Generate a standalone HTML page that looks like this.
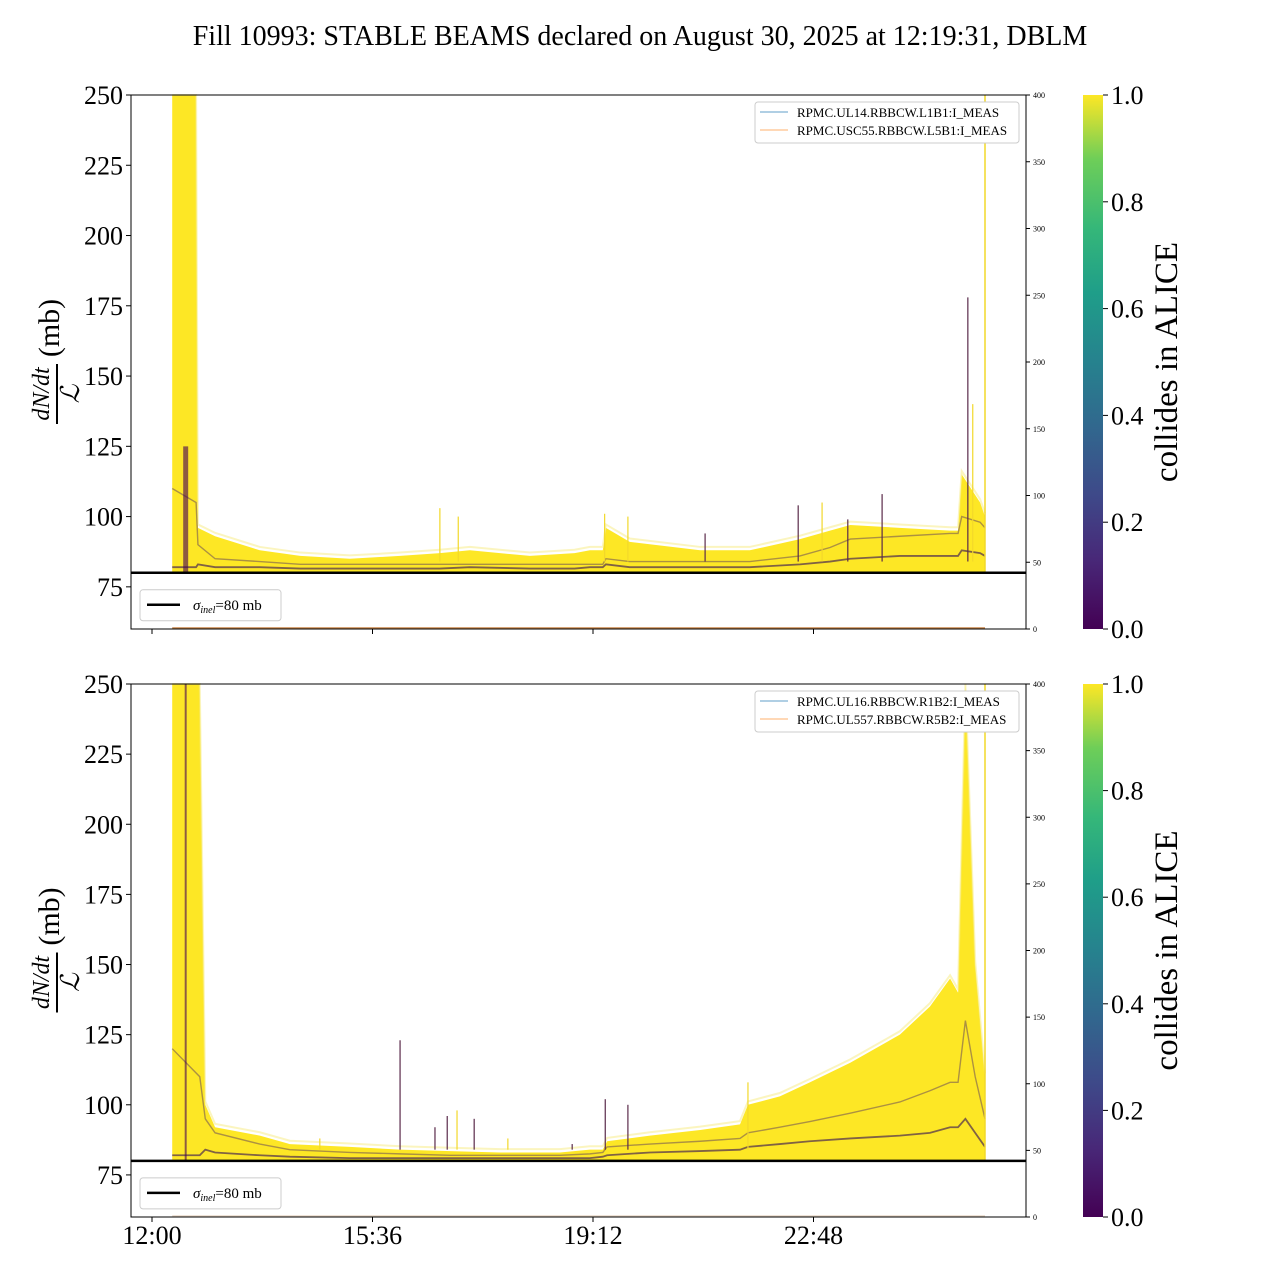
<!DOCTYPE html>
<html><head><meta charset="utf-8">
<style>
body{margin:0;background:#fff;}
svg{display:block;font-family:"Liberation Serif",serif;}
</style></head>
<body>
<svg id="chart" width="1280" height="1280" viewBox="0 0 1280 1280">
<defs>
<linearGradient id="viridis" x1="0" y1="1" x2="0" y2="0">
<stop offset="0" stop-color="#440154"/><stop offset="0.13" stop-color="#482878"/>
<stop offset="0.25" stop-color="#3e4989"/><stop offset="0.38" stop-color="#31688e"/>
<stop offset="0.5" stop-color="#26828e"/><stop offset="0.63" stop-color="#1f9e89"/>
<stop offset="0.75" stop-color="#35b779"/><stop offset="0.88" stop-color="#6ece58"/>
<stop offset="1" stop-color="#fde725"/>
</linearGradient>
</defs>
<text x="640" y="45" text-anchor="middle" font-size="28">Fill 10993: STABLE BEAMS declared on August 30, 2025 at 12:19:31, DBLM</text>
<g id="plots"></g>
</svg>
<script>
// ---- data (hours since 12:00, values in mb) ----
const topTimes = [0.33,0.72,0.75,1.03,1.76,2.42,3.23,4.05,4.70,5.19,6.17,6.9,7.15,7.36,7.41,7.8,8.95,9.76,10.58,11.07,11.4,12.21,13.03,13.16,13.22,13.52,13.6];
const topUpper = [255,255,96,93,88,86,85,86,87,88,86,87,88,88,96,91,88,88,92,95,97,96,95,95,115,105,100];
const topDark1 = [110,105,90,85,84,83,83,83,83,83,83,83,83,83,85,84,84,84,86,89,92,93,94,94,100,98,96];
const topDark2 = [82,82,83,82,82,81.5,81.5,81.5,81.5,82,81.5,81.5,82,82,83,82,82,82,83,84,85,86,86,86,88,87,86];
const topSpikeT = [4.7,5.0,7.39,7.77,9.03,10.55,10.94,11.36,11.92,13.32,13.4];
const topSpikeV = [103,100,101,100,94,104,105,99,108,178,140];
const topSpikeDark = [0,0,0,0,1,1,0,1,1,1,0];

const botTimes = [0.33,0.78,0.87,1.03,1.76,2.25,3.23,4.05,4.87,5.68,6.66,7.15,7.36,7.43,8.13,8.95,9.6,9.73,10.25,10.74,11.4,12.21,12.7,13.03,13.16,13.28,13.44,13.6];
const botUpper = [255,255,100,92,89,86,85,84,83.5,83,83,84,84,87,89,91,93,100,103,108,115,125,135,145,140,255,150,110];
const botDark1 = [120,110,95,90,86,84,83,82.5,82,82,82,82.5,83,85,86,87,88,90,92,94,97,101,105,108,108,130,110,95];
const botDark2 = [82,82,84,83,82,81.5,81,81,81,81,81,81,81.5,82,83,83.5,84,85,86,87,88,89,90,92,92,95,90,85];
const botSpikeT = [2.74,4.05,4.62,4.82,4.98,5.26,5.81,6.86,7.4,7.77,9.73];
const botSpikeV = [88,123,92,96,98,95,88,86,102,100,108];
const botSpikeDark = [0,1,1,1,0,1,0,1,1,1,0];

const yTicks = [75,100,125,150,175,200,225,250];
const rTicks = [0,50,100,150,200,250,300,350,400];
const xTickH = [0,3.6,7.2,10.8];
const xTickLabels = ["12:00","15:36","19:12","22:48"];
const cbTicks = [0,0.2,0.4,0.6,0.8,1.0];

const NS="http://www.w3.org/2000/svg";
const root=document.getElementById('plots');
function el(tag,attrs,parent){const e=document.createElementNS(NS,tag);for(const k in attrs)e.setAttribute(k,attrs[k]);(parent||root).appendChild(e);return e;}
const L=131,R=1026;
const X=h=>152+h*61.25;

function panel(top,bot,times,upper,d1,d2,sT,sV,sD,leg1,leg2,showX,idx){
  const Y=v=>{v=Math.max(60,Math.min(250,v));return top+(250-v)*(bot-top)/190;};
  const YR=v=>bot-v*(bot-top)/400;
  const g=el('g',{});
  
  
  let pts=times.map((t,i)=>X(t)+','+Y(upper[i])).join(' ');
  pts+=' '+X(times[times.length-1])+','+Y(80)+' '+X(times[0])+','+Y(80);
  const band=el('polygon',{points:pts,fill:'#fde725'},g);
  
  
  const fz=el('polyline',{points:times.map((t,i)=>X(t)+','+Y(upper[i]+1.2)).join(' '),fill:'none',stroke:'#f8ec80',"stroke-width":2,opacity:0.5},g);
  
  
  [[d1,'#6a4a5a',1.4,0.55],[d2,'#4a2a50',1.8,0.7]].forEach((s,j)=>{
    const p=el('polyline',{points:times.map((t,i)=>X(t)+','+Y(s[0][i])).join(' '),fill:'none',stroke:s[1],"stroke-width":s[2],opacity:s[3]},g);
    
    
  });
  const st=el('line',{x1:X(0.55),x2:X(0.55),y1:Y(80),y2:Y(d1[0]+(idx==1?15:130)),stroke:'#440154',"stroke-width":idx==1?5:2,opacity:0.6},g);
  
  
  sT.forEach((t,i)=>{
    const s=el('line',{x1:X(t),x2:X(t),y1:Y(84),y2:Y(sV[i]),stroke:sD[i]?'#5a2a4a':'#f2d82a',"stroke-width":1.2},g);
    
    
  });
  const vl=el('line',{x1:X(13.6),x2:X(13.6),y1:top,y2:Y(80),stroke:'#f2d82a',"stroke-width":1.5},g);
  
  
  const ob=el('line',{x1:X(0.33),x2:X(13.6),y1:YR(0)-1,y2:YR(0)-1,stroke:idx==1?'#c8864a':'#e8d8c8',"stroke-width":1.5},g);
  
  
  const sl=el('line',{x1:L,x2:R,y1:Y(80),y2:Y(80),stroke:'#000',"stroke-width":2.5},g);
  
  
  const fr=el('rect',{x:L,y:top,width:R-L,height:bot-top,fill:'none',stroke:'#000',"stroke-width":1},g);
  
  
  yTicks.forEach(v=>{
    const tk=el('line',{x1:L-5,x2:L,y1:Y(v),y2:Y(v),stroke:'#000'},g);
    
    
    const tx=el('text',{x:L-8,y:Y(v)+9,"text-anchor":"end","font-size":26},g);
    tx.textContent=v;
    
    
  });
  rTicks.forEach(v=>{
    const tk=el('line',{x1:R,x2:R+4,y1:YR(v),y2:YR(v),stroke:'#000'},g);
    
    
    const tx=el('text',{x:R+7,y:YR(v)+3,"font-size":8},g);
    tx.textContent=v;
    
    
  });
  xTickH.forEach((h,i)=>{
    const tk=el('line',{x1:X(h),x2:X(h),y1:bot,y2:bot+5,stroke:'#000'},g);
    
    
    if(showX){
      const tx=el('text',{x:X(h),y:bot+27,"text-anchor":"middle","font-size":26},g);
      tx.textContent=xTickLabels[i];
      
      
    }
  });
  const cy=(top+bot)/2;
  const yl=el('g',{transform:`translate(57,${cy}) rotate(-90)`},g);
  
  
  const t1=el('text',{x:-32,y:-8,"text-anchor":"middle","font-size":24,"font-style":"italic"},yl);t1.textContent='dN/dt';
  el('line',{x1:-62,x2:-2,y1:0,y2:0,stroke:'#000',"stroke-width":2},yl);
  const t2=el('text',{x:-32,y:22,"text-anchor":"middle","font-size":26,"font-style":"italic"},yl);t2.textContent='ℒ';
  const t3=el('text',{x:34,y:2,"text-anchor":"middle","font-size":30},yl);t3.textContent='(mb)';
  const lg=el('g',{},g);
  
  
  el('rect',{x:755,y:top+7,width:264,height:41,rx:3,fill:'#fff',stroke:'#ccc'},lg);
  el('line',{x1:760,x2:788,y1:top+17,y2:top+17,stroke:'#1f77b4',"stroke-width":1,opacity:0.7},lg);
  el('line',{x1:760,x2:788,y1:top+35,y2:top+35,stroke:'#ff7f0e',"stroke-width":1,opacity:0.6},lg);
  const a=el('text',{x:797,y:top+22,"font-size":13},lg);a.textContent=leg1;
  const b=el('text',{x:797,y:top+40,"font-size":13},lg);b.textContent=leg2;
  const sg=el('g',{},g);
  
  
  el('rect',{x:140,y:Y(80)+17,width:141,height:31,rx:3,fill:'#fff',stroke:'#ccc'},sg);
  el('line',{x1:147,x2:180,y1:Y(80)+32,y2:Y(80)+32,stroke:'#000',"stroke-width":2.5},sg);
  const st2=el('text',{x:193,y:Y(80)+37,"font-size":15},sg);
  st2.innerHTML='<tspan font-style="italic">σ</tspan><tspan font-style="italic" font-size="10" dy="3">inel</tspan><tspan dy="-3">=80 mb</tspan>';
  const cb=el('g',{},g);
  
  
  el('rect',{x:1083,y:top,width:20,height:bot-top,fill:'url(#viridis)'},cb);
  cbTicks.forEach(v=>{
    const yy=bot-v*(bot-top);
    el('line',{x1:1103,x2:1108,y1:yy,y2:yy,stroke:'#000'},cb);
    const tx=el('text',{x:1111,y:yy+9,"font-size":26},cb);
    tx.textContent=v.toFixed(1);
    
    
  });
  const ct=el('text',{x:0,y:0,"text-anchor":"middle","font-size":33,transform:`translate(1177,${cy}) rotate(-90)`},cb);
  ct.textContent='collides in ALICE';
  
  
}
panel(95,629,topTimes,topUpper,topDark1,topDark2,topSpikeT,topSpikeV,topSpikeDark,'RPMC.UL14.RBBCW.L1B1:I_MEAS','RPMC.USC55.RBBCW.L5B1:I_MEAS',false,1);
panel(684,1217,botTimes,botUpper,botDark1,botDark2,botSpikeT,botSpikeV,botSpikeDark,'RPMC.UL16.RBBCW.R1B2:I_MEAS','RPMC.UL557.RBBCW.R5B2:I_MEAS',true,2);
</script>
</body></html>
